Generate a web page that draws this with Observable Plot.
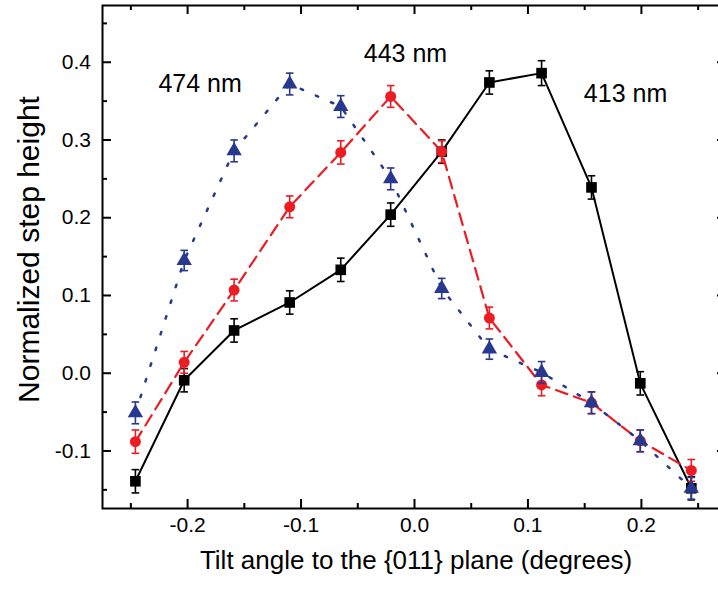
<!DOCTYPE html>
<html><head><meta charset="utf-8">
<script src="https://cdn.jsdelivr.net/npm/d3@7"></script>
<script src="https://cdn.jsdelivr.net/npm/@observablehq/plot@0.6"></script>
<style>html,body{margin:0;padding:0;background:#fff;overflow:hidden;width:718px;height:590px} svg{max-width:none !important}</style>
</head><body><div id="chart"></div>
<script>
// ---- data ----
const tilt = [-0.246, -0.203, -0.159, -0.110, -0.065, -0.021, 0.024, 0.066, 0.112, 0.156, 0.199, 0.244];
const h413 = [-0.139, -0.009, 0.055, 0.091, 0.133, 0.204, 0.285, 0.374, 0.386, 0.239, -0.013, -0.148];
const e413 = [0.015, 0.015, 0.015, 0.015, 0.015, 0.015, 0.015, 0.015, 0.016, 0.015, 0.015, 0.015];
const h443 = [-0.088, 0.014, 0.107, 0.214, 0.284, 0.356, 0.285, 0.071, -0.015, -0.038, -0.087, -0.125];
const e443 = [0.015, 0.014, 0.014, 0.014, 0.015, 0.014, 0.014, 0.014, 0.014, 0.014, 0.014, 0.014];
const h474 = [-0.051, 0.145, 0.286, 0.372, 0.343, 0.250, 0.109, 0.031, 0.001, -0.038, -0.087, -0.148];
const e474 = [0.014, 0.013, 0.014, 0.014, 0.014, 0.014, 0.013, 0.013, 0.014, 0.014, 0.014, 0.014];
const seriesNames = ["413 nm", "443 nm", "474 nm"];
const labelX = [0.186, -0.008, -0.189];
const labelY = [0.359, 0.411, 0.372];
const xMajor = [-0.2, -0.1, 0.0, 0.1, 0.2];
const xMajorLabels = ["-0.2", "-0.1", "0.0", "0.1", "0.2"];
const xMinor = [-0.25, -0.15, -0.05, 0.05, 0.15, 0.25];
const yMajor = [-0.1, 0.0, 0.1, 0.2, 0.3, 0.4];
const yMajorLabels = ["-0.1", "0.0", "0.1", "0.2", "0.3", "0.4"];
const yMinor = [-0.15, -0.05, 0.05, 0.15, 0.25, 0.35, 0.45];
const xTitle = "Tilt angle to the {011} plane (degrees)";
const yTitle = "Normalized step height";

// ---- build ----
const W = 728, H = 590, mL = 102, mR = 2, mT = 5, mB = 82;
const fw = W - mL - mR, fh = H - mT - mB;
const font = "'Liberation Sans', Arial, Helvetica, sans-serif";
const colors = ["#000000", "#ec1c24", "#27388f"];
const heights = [h413, h443, h474];
const errs = [e413, e443, e474];
const symbols = ["square", "circle", "triangle"];
const radii = [6.0, 5.5, 5.7];
const dashes = [null, "12,7", "2.5,14"];
const widths = [2, 2.2, 2.5];

const capSymbol = {draw(ctx, size) { const w = Math.sqrt(size); ctx.moveTo(-w / 2, 0); ctx.lineTo(w / 2, 0); }};

const marks = [];
heights.forEach((hs, s) => {
  const rows = tilt.map((x, i) => ({x, y: hs[i], lo: hs[i] - errs[s][i], hi: hs[i] + errs[s][i]}));
  marks.push(Plot.line(rows, {x: "x", y: "y", stroke: colors[s], strokeWidth: widths[s], strokeDasharray: dashes[s]}));
  marks.push(Plot.ruleX(rows, {x: "x", y1: "lo", y2: "hi", stroke: colors[s], strokeWidth: 1.6}));
  marks.push(Plot.dot(rows, {x: "x", y: "lo", symbol: capSymbol, r: 4.3, stroke: colors[s], strokeWidth: 1.6, fill: "none"}));
  marks.push(Plot.dot(rows, {x: "x", y: "hi", symbol: capSymbol, r: 4.3, stroke: colors[s], strokeWidth: 1.6, fill: "none"}));
  marks.push(Plot.dot(rows, {x: "x", y: "y", symbol: symbols[s], r: radii[s], fill: colors[s], stroke: "none"}));
});

const labelRows = seriesNames.map((t, i) => ({t, x: labelX[i], y: labelY[i]}));
marks.push(Plot.text(labelRows, {x: "x", y: "y", text: "t", fontSize: 25, fill: "black", textAnchor: "middle", lineAnchor: "middle", fontFamily: font}));

// ticks (inward on all four sides)
const tickStyle = {stroke: "black", strokeWidth: 2};
marks.push(Plot.tickX(xMajor, {x: d => d, insetTop: fh - 9, ...tickStyle}));
marks.push(Plot.tickX(xMajor, {x: d => d, insetBottom: fh - 9, ...tickStyle}));
marks.push(Plot.tickX(xMinor, {x: d => d, insetTop: fh - 5, ...tickStyle}));
marks.push(Plot.tickX(xMinor, {x: d => d, insetBottom: fh - 5, ...tickStyle}));
marks.push(Plot.tickY(yMajor, {y: d => d, insetRight: fw - 9, ...tickStyle}));
marks.push(Plot.tickY(yMajor, {y: d => d, insetLeft: fw - 9, ...tickStyle}));
marks.push(Plot.tickY(yMinor, {y: d => d, insetRight: fw - 5, ...tickStyle}));
marks.push(Plot.tickY(yMinor, {y: d => d, insetLeft: fw - 5, ...tickStyle}));
marks.push(Plot.frame({stroke: "black", strokeWidth: 2}));

// tick labels
marks.push(Plot.text(xMajor.map((v, i) => ({v, t: xMajorLabels[i]})), {x: "v", text: "t", frameAnchor: "bottom", dy: 16.5, fontSize: 21, textAnchor: "middle", lineAnchor: "middle", fill: "black", fontFamily: font}));
marks.push(Plot.text(yMajor.map((v, i) => ({v, t: yMajorLabels[i]})), {y: "v", text: "t", frameAnchor: "left", dx: -11.5, fontSize: 21, textAnchor: "end", lineAnchor: "middle", fill: "black", fontFamily: font}));

// axis titles
marks.push(Plot.text([xTitle], {text: d => d, frameAnchor: "bottom", dx: 1.5, dy: 51.7, fontSize: 26, textAnchor: "middle", lineAnchor: "middle", fill: "black", fontFamily: font}));
marks.push(Plot.text([yTitle], {text: d => d, frameAnchor: "left", rotate: -90, dx: -73, dy: -7.5, fontSize: 30, textAnchor: "middle", lineAnchor: "middle", fill: "black", fontFamily: font}));

const chart = Plot.plot({
  width: W, height: H,
  marginLeft: mL, marginRight: mR, marginTop: mT, marginBottom: mB,
  style: {background: "white", fontFamily: font, overflow: "visible", maxWidth: "none"},
  x: {domain: [-0.275, 0.275], axis: null},
  y: {domain: [-0.174, 0.473], axis: null},
  marks
});
document.getElementById("chart").appendChild(chart);
</script>
</body></html>
